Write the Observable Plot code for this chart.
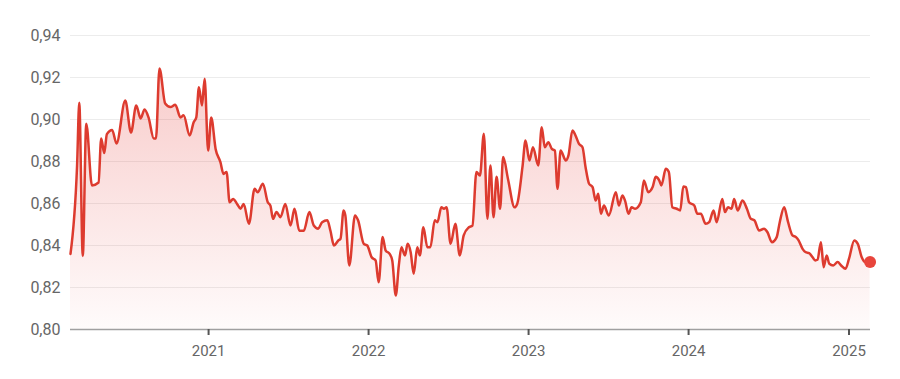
<!DOCTYPE html>
<html>
<head>
<meta charset="utf-8">
<script src="https://cdn.jsdelivr.net/npm/d3@7"></script>
<script src="https://cdn.jsdelivr.net/npm/@observablehq/plot@0.6"></script>
<style>
  html, body { margin: 0; padding: 0; background: #ffffff; }
  #chart svg { display: block; }
</style>
</head>
<body>
<div id="chart"></div>
<script>
const dates = [
  "2020-02-21","2020-03-07","2020-03-12","2020-03-20","2020-03-28","2020-04-10","2020-04-25","2020-05-01",
  "2020-05-08","2020-05-14","2020-05-26","2020-06-05","2020-06-25","2020-07-08","2020-07-20","2020-07-30",
  "2020-08-08","2020-08-17","2020-08-29","2020-09-03","2020-09-11","2020-09-24","2020-10-06","2020-10-17",
  "2020-10-29","2020-11-05","2020-11-19","2020-11-28","2020-12-04","2020-12-10","2020-12-17","2020-12-23",
  "2020-12-31","2021-01-07","2021-01-17","2021-01-28","2021-02-04","2021-02-11","2021-02-18","2021-02-26",
  "2021-03-07","2021-03-15","2021-03-22","2021-04-03","2021-04-16","2021-04-23","2021-05-05","2021-05-16",
  "2021-05-22","2021-05-28","2021-06-05","2021-06-14","2021-06-25","2021-07-07","2021-07-16","2021-07-27",
  "2021-08-06","2021-08-19","2021-08-29","2021-09-08","2021-09-17","2021-09-29","2021-10-06","2021-10-14",
  "2021-10-24","2021-10-29","2021-11-05","2021-11-09","2021-11-18","2021-12-01","2021-12-08","2021-12-21",
  "2021-12-29","2022-01-08","2022-01-17","2022-01-24","2022-02-02","2022-02-09","2022-02-18","2022-02-24",
  "2022-03-04","2022-03-11","2022-03-17","2022-03-25","2022-03-31","2022-04-07","2022-04-14","2022-04-22",
  "2022-04-28","2022-05-06","2022-05-15","2022-05-22","2022-06-01","2022-06-07","2022-06-16","2022-06-22",
  "2022-06-28","2022-07-07","2022-07-18","2022-07-28","2022-08-06","2022-08-18","2022-08-26","2022-09-04",
  "2022-09-12","2022-09-21","2022-09-29","2022-10-06","2022-10-13","2022-10-20","2022-10-28","2022-11-04",
  "2022-11-15","2022-11-30","2022-12-06","2022-12-18","2022-12-25","2023-01-03","2023-01-11","2023-01-23",
  "2023-01-31","2023-02-07","2023-02-15","2023-02-23","2023-03-02","2023-03-08","2023-03-15","2023-03-27",
  "2023-04-02","2023-04-11","2023-04-18","2023-04-26","2023-05-04","2023-05-11","2023-05-19","2023-05-27",
  "2023-06-03","2023-06-09","2023-06-15","2023-06-22","2023-07-03","2023-07-19","2023-07-26","2023-08-03",
  "2023-08-09","2023-08-17","2023-08-24","2023-09-01","2023-09-14","2023-09-21","2023-10-01","2023-10-11",
  "2023-10-18","2023-10-26","2023-10-31","2023-11-10","2023-11-17","2023-11-25","2023-12-05","2023-12-13",
  "2023-12-20","2023-12-26","2024-01-02","2024-01-14","2024-01-21","2024-01-29","2024-02-09","2024-02-17",
  "2024-02-27","2024-03-05","2024-03-18","2024-03-24","2024-03-31","2024-04-08","2024-04-14","2024-04-22",
  "2024-05-03","2024-05-13","2024-05-22","2024-05-30","2024-06-10","2024-06-21","2024-06-29","2024-07-09",
  "2024-07-20","2024-07-27","2024-08-06","2024-08-15","2024-08-25","2024-09-02","2024-09-08","2024-09-17",
  "2024-09-24","2024-10-02","2024-10-10","2024-10-16","2024-10-21","2024-10-29","2024-11-04","2024-11-11",
  "2024-11-17","2024-11-26","2024-12-06","2024-12-14","2024-12-24","2025-01-01","2025-01-13","2025-01-21",
  "2025-01-30","2025-02-07","2025-02-18"
];
const values = [
  0.836,0.878,0.908,0.835,0.898,0.8686,0.870,0.891,
  0.884,0.893,0.895,0.8886,0.909,0.8938,0.9067,0.9005,
  0.9048,0.901,0.891,0.891,0.9243,0.9076,0.9059,0.907,
  0.901,0.902,0.8924,0.8987,0.901,0.9154,0.9067,0.9194,
  0.8852,0.901,0.886,0.8797,0.8741,0.875,0.8606,0.8622,
  0.8598,0.8575,0.8598,0.8503,0.867,0.8654,0.8694,0.8606,
  0.859,0.8527,0.8559,0.8535,0.8598,0.8495,0.8575,0.847,
  0.847,0.8559,0.8495,0.848,0.8511,0.852,0.847,0.840,
  0.8424,0.8432,0.8567,0.8543,0.8305,0.8543,0.852,0.8408,
  0.840,0.8344,0.8329,0.8225,0.844,0.8376,0.836,0.8329,
  0.8162,0.8305,0.8392,0.8352,0.8408,0.8368,0.8265,0.8392,
  0.8352,0.8487,0.8392,0.8392,0.852,0.8511,0.8582,0.8575,
  0.8582,0.8408,0.8503,0.8352,0.8448,0.8487,0.8495,0.875,
  0.8733,0.8932,0.8527,0.8781,0.8535,0.8727,0.8575,0.8821,
  0.8717,0.8582,0.8598,0.8773,0.890,0.8805,0.8868,0.8781,
  0.8963,0.8868,0.8892,0.886,0.8852,0.867,0.8852,0.8805,
  0.8829,0.8948,0.8924,0.8884,0.8868,0.8773,0.8694,0.8678,
  0.8614,0.8646,0.8551,0.859,0.8543,0.8654,0.859,0.8638,
  0.8614,0.8551,0.8582,0.8575,0.8606,0.871,0.8654,0.8678,
  0.8727,0.871,0.8686,0.8765,0.875,0.8582,0.8575,0.8567,
  0.8681,0.8678,0.8606,0.859,0.8551,0.8551,0.8503,0.8511,
  0.8567,0.8511,0.8622,0.8559,0.8582,0.8575,0.8622,0.8567,
  0.8614,0.8575,0.8527,0.852,0.8471,0.848,0.8463,0.8416,
  0.844,0.8511,0.8582,0.8511,0.8448,0.844,0.8424,0.8384,
  0.8368,0.8364,0.8344,0.8329,0.8332,0.8416,0.8297,0.8352,
  0.8313,0.8305,0.8321,0.8305,0.8289,0.8337,0.8424,0.8408,
  0.8344,0.8321,0.8321
];
const yTicks = [0.80, 0.82, 0.84, 0.86, 0.88, 0.90, 0.92, 0.94];
const xTickYears = ["2021", "2022", "2023", "2024", "2025"];

const data = dates.map((d, i) => ({date: new Date(d), value: values[i]}));
const last = data[data.length - 1];
const xTicks = xTickYears.map(y => new Date(y + "-01-01"));

const red = "#dd3b2f";
const fmtY = d => d.toFixed(2).replace(".", ",");

const chart = Plot.plot({
  width: 900,
  height: 379,
  marginLeft: 70,
  marginRight: 30,
  marginTop: 35,
  marginBottom: 50,
  style: {fontFamily: "Roboto, sans-serif", fontSize: "15px", background: "#ffffff"},
  x: {type: "utc", domain: [new Date("2020-02-21"), new Date("2025-02-19")]},
  y: {domain: [0.80, 0.94]},
  marks: [
    Plot.gridY(yTicks.slice(1), {stroke: "#ececec", strokeOpacity: 1, strokeWidth: 1.2}),
    Plot.areaY(data, {x: "date", y1: 0.80, y2: "value", fill: "url(#redFade)", curve: "monotone-x"}),
    Plot.ruleY([0.80], {stroke: "#a0a0a0", strokeWidth: 1.5}),
    Plot.lineY(data, {x: "date", y: "value", stroke: red, strokeWidth: 2.5, curve: "monotone-x"}),
    Plot.dot([last], {x: "date", y: "value", r: 6, fill: "#e8453c", stroke: "none"}),
    Plot.axisY({ticks: yTicks, tickFormat: fmtY, tickSize: 0, tickPadding: 10, label: null, color: "#666", fontSize: 16}),
    Plot.axisX({ticks: xTicks, tickFormat: d3.utcFormat("%Y"), tickSize: 6, tickPadding: 10, label: null,
                stroke: "#555", strokeWidth: 2, color: "#666"})
  ]
});

// gradient definition for the area fill
const svg = d3.select(chart);
const defs = svg.insert("defs", ":first-child");
const grad = defs.append("linearGradient")
  .attr("id", "redFade").attr("x1", 0).attr("x2", 0).attr("y1", 0).attr("y2", 1);
grad.append("stop").attr("offset", "0%").attr("stop-color", "#e53935").attr("stop-opacity", 0.26);
grad.append("stop").attr("offset", "100%").attr("stop-color", "#e53935").attr("stop-opacity", 0.02);

document.getElementById("chart").appendChild(chart);
</script>
</body>
</html>
